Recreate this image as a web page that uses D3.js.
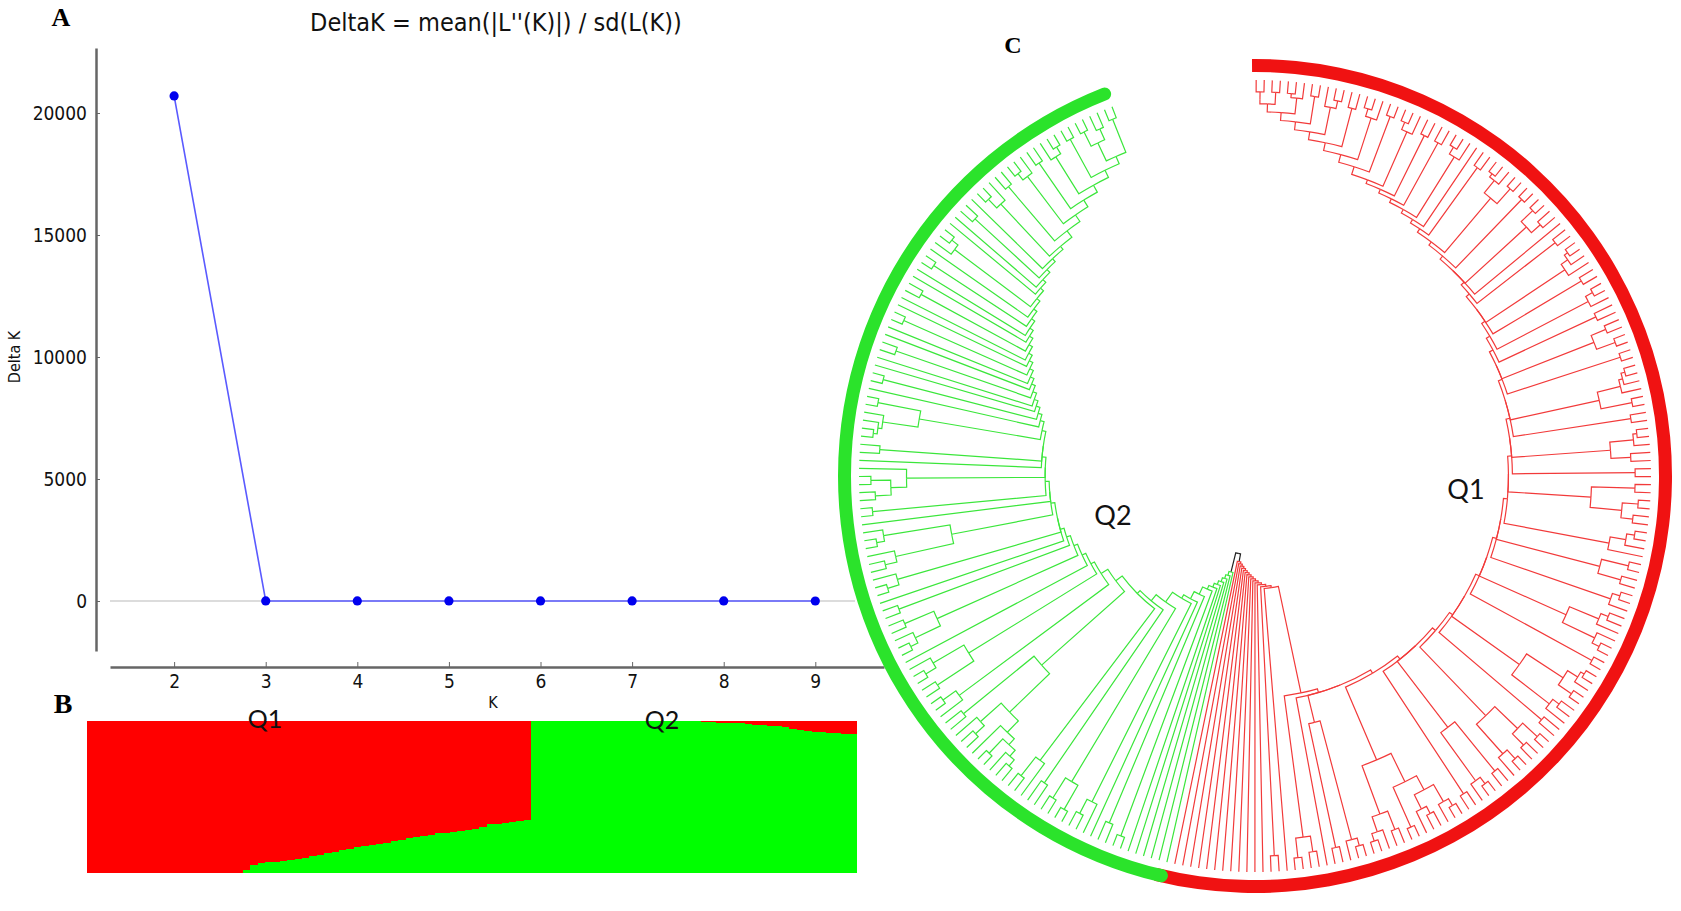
<!DOCTYPE html>
<html>
<head>
<meta charset="utf-8">
<script src="https://cdn.jsdelivr.net/npm/d3@7"></script>
<style>
  body { margin: 0; background: #fff; }
  svg { display: block; }
  .axis path, .axis line { stroke: #666; }
  .axis text { font-family: "DejaVu Sans Condensed", "DejaVu Sans", sans-serif; font-stretch: condensed; font-size: 19px; fill: #111; }
</style>
</head>
<body>
<svg id="fig"></svg>
<script>
const width = 1681, height = 911;

// Panel A - Evanno DeltaK
const kValues = [2, 3, 4, 5, 6, 7, 8, 9];
const deltaK = [20700, 4, 3, 3, 2, 2, 2, 1];
const yTicks = [0, 5000, 10000, 15000, 20000];

// Panel B - Q1 (red) membership of each individual, sorted inside each cluster
const popQ1 = [1, 1, 1, 1, 1, 1, 1, 1, 1, 1, 1, 1, 1, 1, 1, 1, 1, 1, 1, 1, 1,
  0.98, 0.95, 0.934, 0.93, 0.925, 0.92, 0.915, 0.91, 0.90, 0.89, 0.88, 0.87, 0.86, 0.85,
  0.84, 0.83, 0.82, 0.815, 0.81, 0.80, 0.79, 0.78, 0.77, 0.76, 0.755, 0.75, 0.74, 0.735,
  0.73, 0.725, 0.72, 0.71, 0.70, 0.68, 0.675, 0.67, 0.665, 0.66, 0.65];
const popQ2 = [0, 0, 0, 0, 0, 0, 0, 0, 0, 0, 0, 0, 0, 0, 0, 0, 0, 0, 0, 0, 0, 0, 0,
  0.005, 0.008, 0.01, 0.012, 0.014, 0.016, 0.02, 0.024, 0.027, 0.03, 0.035, 0.042,
  0.05, 0.058, 0.065, 0.07, 0.074, 0.077, 0.08, 0.083, 0.086];
const clusterNames = ["Q1", "Q2"];

// Panel C - tree. Each cluster is a ladder (spine) read outward from the root.
// spine depth = where the clade joins the spine; clade = small newick,
// internal labels are node depths (0 = centre, 100 = tips)
const rootDepth = 20;
const q1SpineDepth = [22, 22.5, 23, 23.5, 24, 24.5, 25, 25.5, 26, 26.5, 27, 27.5, 28, 28.5,
  56, 57, 57, 58, 59, 59, 60, 61, 61, 62, 62, 63, 63, 64, 64, 65, 65, 66, 66, 67, 67, 68,
  69, 70, 70, 71, 72, 72, 73, 74, 75, 76, 77, 78, 79, 80, 82, 84, 86, 88, 90, 92, 94, 95];
const q1Clades = ["", "", "", "", "", "", "", "", "", "", "", "", "(,)96", "",
  "((,)96,(,)97)92", "", "(((,)97,)95,(,)96)64",
  "(((((,)97,)95,((,)96,)94)90,(,)97)86,((,)96,(,(,)97)95)91)78",
  "(,)96", "((,)96,((,)97,)95)80", "(((,)97,(,)96)92,((,)97,)94)84",
  "(,)95", "((((,)97,)96,(,)97)93,((,)96,)94)82", "(,)97", "(((,)96,)94,(,(,)97)95)86",
  "((,)97,)95", "((,)97,(,)96)90", "(((,)97,)95,)91", "((,)96,((,)97,(,)96)93)85",
  "(,)96", "(((,)97,)96,(,)95)90", "(,)96", "((((,)97,)96,)95,(,)97)89",
  "(,)97", "((,)96,(,)97)92", "(,)95", "((,)97,)95", "(,)96", "(((,)97,)96,)94",
  "(,)96", "", "((,)97,(,)96)93", "(,)97", "(((,)97,)96,(,)97)92", "(,)96", "",
  "((,)97,)95", "(,)96", "(,)96", "((,)97,)95", "(,)97", "((,)97,)95", "(,)96",
  "(,(,)97)95", "(,)97", "((,)97,)96", "(,)97", "(,)97"];
const q2SpineDepth = [25, 26, 27, 28, 29, 30, 31, 33, 35, 36, 39, 41, 42, 44, 46, 47, 48, 49,
  50, 51, 51, 52, 52, 53, 53, 54, 54, 55, 56, 57, 58, 59, 60, 61, 62, 63, 64, 65, 66, 67,
  68, 69, 70, 71, 72, 73, 74, 75, 76, 78, 80, 82, 84, 86, 88, 90];
const q2Clades = ["", "", "", "", "", "", "(,)97", "(,)95", "", "(,(,)96)92",
  "((,)97,(,)96)90", "(,)94", "(,(,)96)90",
  "((((((,)96,)94,(,)97)92,)90,((,)96,)93)86,(,)95)72",
  "(,(,)97)93", "((,)96,((,)97,)94)85", "", "(((,)97,)95,(,)96)88",
  "(,)96", "", "((,)97,)94", "(((,)96,)93,((,)97,)95)78", "", "(,)97",
  "(((,)96,(,)97)92,)88", "", "(,)95", "((((,)97,)96,)95,(,)97)86",
  "", "(,)97", "", "", "(,)96", "", "", "(,)97", "", "", "(,)96", "", "", "(,)97", "",
  "(,(,)97)95", "", "", "(,)96", "", "((,)97,)94",
  "(,)96", "((,)97,)95", "(,)96", "(,(,)97)95", "(,)97", "((,)97,(,)96)93", "(,)97"];

const colors = { Q1: "#ff0000", Q2: "#00ff00" };
const treeLine = { Q1: "#f23a3a", Q2: "#3be63b", root: "#222" };
const ringColor = { Q1: "#f01212", Q2: "#2be32b" };
const labelFont = "'DejaVu Sans Condensed', 'DejaVu Sans', sans-serif";

const svg = d3.select("#fig").attr("width", width).attr("height", height);

// ---------- Panel A ----------
const x = d3.scaleLinear().domain([1.3, 9.75]).range([110, 884]);
const y = d3.scaleLinear().domain([-2049, 22664]).range([651, 48]);

svg.append("line")
  .attr("x1", 110).attr("x2", 855)
  .attr("y1", y(0)).attr("y2", y(0))
  .attr("stroke", "#dcdcdc").attr("stroke-width", 2);

svg.append("g").attr("class", "axis")
  .attr("transform", "translate(96,0)")
  .call(d3.axisLeft(y).tickValues(yTicks).tickFormat(d3.format("d"))
    .tickSize(-4).tickSizeOuter(0).tickPadding(9))
  .call(g => g.select(".domain").attr("stroke-width", 2.5));

svg.append("g").attr("class", "axis")
  .attr("transform", "translate(0,667)")
  .call(d3.axisBottom(x).tickValues(kValues).tickSize(-5).tickSizeOuter(0).tickPadding(8))
  .call(g => g.select(".domain").attr("stroke-width", 2.5));

const line = d3.line().x((d, i) => x(kValues[i])).y(d => y(d));
svg.append("path").datum(deltaK)
  .attr("d", line).attr("fill", "none")
  .attr("stroke", "#5a5aff").attr("stroke-width", 1.6);

svg.append("g").selectAll("circle")
  .data(deltaK)
  .join("circle")
  .attr("cx", (d, i) => x(kValues[i]))
  .attr("cy", d => y(d))
  .attr("r", 4.6)
  .attr("fill", "#0000ee");

svg.append("text")
  .attr("x", 496).attr("y", 24)
  .attr("text-anchor", "middle").attr("dominant-baseline", "middle")
  .style("font-family", labelFont).style("font-stretch", "condensed")
  .style("font-size", "25px").style("fill", "#111")
  .text("DeltaK = mean(|L''(K)|) / sd(L(K))");

svg.append("text")
  .attr("transform", "translate(15,357) rotate(-90)")
  .attr("text-anchor", "middle").attr("dominant-baseline", "middle")
  .style("font-family", labelFont).style("font-stretch", "condensed")
  .style("font-size", "16px").style("fill", "#111")
  .text("Delta K");

svg.append("text")
  .attr("x", 493).attr("y", 703)
  .attr("text-anchor", "middle").attr("dominant-baseline", "middle")
  .style("font-family", labelFont).style("font-stretch", "condensed")
  .style("font-size", "16px").style("fill", "#111")
  .text("K");

// ---------- Panel B ----------
const individuals = popQ1.concat(popQ2);
const bx = d3.scaleBand().domain(d3.range(individuals.length)).range([87, 856]);
const by = d3.scaleLinear().domain([0, 1]).range([873, 721]);

const bars = svg.append("g").attr("shape-rendering", "crispEdges");
bars.selectAll(".green")
  .data(individuals)
  .join("rect")
  .attr("class", "green")
  .attr("x", (d, i) => bx(i)).attr("width", bx.bandwidth() + 0.6)
  .attr("y", d => by(1 - d)).attr("height", d => by(0) - by(1 - d))
  .attr("fill", colors.Q2);
bars.selectAll(".red")
  .data(individuals)
  .join("rect")
  .attr("class", "red")
  .attr("x", (d, i) => bx(i)).attr("width", bx.bandwidth() + 0.6)
  .attr("y", by(1)).attr("height", d => by(1 - d) - by(1))
  .attr("fill", colors.Q1);

[[clusterNames[0], 265, 728], [clusterNames[1], 662, 729]].forEach(([t, tx, ty]) => {
  svg.append("text")
    .attr("x", tx).attr("y", ty).attr("text-anchor", "middle")
    .style("font-family", "Lato, sans-serif").style("font-size", "25px").style("fill", "#111")
    .text(t);
});

// ---------- Panel C ----------
function parseClade(s) {
  let i = 0;
  function node() {
    if (s[i] === "(") {
      i++;
      const children = [node()];
      while (s[i] === ",") { i++; children.push(node()); }
      i++;
      let lab = "";
      while (i < s.length && /[0-9.]/.test(s[i])) lab += s[i++];
      return { depth: +lab, children };
    }
    return { depth: 100 };
  }
  return node();
}

function buildSpine(depths, clades, group, cladeFirst) {
  let node = null;
  for (let k = depths.length - 1; k >= 0; k--) {
    const sub = parseClade(clades[k]);
    node = node === null
      ? { depth: depths[k], children: [sub] }
      : { depth: depths[k], children: cladeFirst ? [sub, node] : [node, sub] };
  }
  node.group = group;
  return node;
}

const treeData = {
  depth: rootDepth,
  children: [
    buildSpine(q1SpineDepth, q1Clades, "Q1", false),
    buildSpine(q2SpineDepth, q2Clades, "Q2", true)
  ]
};

const root = d3.hierarchy(treeData);
d3.cluster().size([1, 1]).separation(() => 1)(root);
root.each(d => { d.group = d.depth === 0 ? "root" : (d.depth === 1 ? d.data.group : d.parent.group); });

const leaves = root.leaves();
const a0 = -1 * Math.PI / 180, a1 = 340 * Math.PI / 180;
const step = (a1 - a0) / leaves.length;
const angle = d3.scaleLinear().domain([0, 1]).range([a0 + step / 2, a1 - step / 2]);
const radius = d3.scaleLinear().domain([0, 100]).range([0, 396]);

const polar = (a, r) => [r * Math.sin(a), -r * Math.cos(a)];

function elbow(l) {
  const as = angle(l.source.x), at = angle(l.target.x);
  const rs = radius(l.source.data.depth), rt = radius(l.target.data.depth);
  const p = d3.path();
  const [x1, y1] = polar(at, rt);
  const [x2, y2] = polar(at, rs);
  p.moveTo(x1, y1);
  p.lineTo(x2, y2);
  if (rs > 0 && Math.abs(as - at) > 1e-6) p.arc(0, 0, rs, at - Math.PI / 2, as - Math.PI / 2, as < at);
  return p.toString();
}

const tree = svg.append("g").attr("transform", "translate(1255,476)");

tree.append("g")
  .attr("fill", "none")
  .selectAll("path")
  .data(root.links())
  .join("path")
  .attr("d", elbow)
  .attr("stroke", d => d.source.depth === 0 ? treeLine.root : treeLine[d.target.group])
  .attr("stroke-width", 1.2);

// outer cluster rings
const ring = d3.arc().innerRadius(404).outerRadius(417);
const groups = ["Q1", "Q2"].map(g => {
  const ls = leaves.filter(d => d.group === g);
  return { g, start: angle(ls[0].x) - step / 2, end: angle(ls[ls.length - 1].x) + step / 2 };
});
tree.append("path")
  .attr("d", ring({ startAngle: groups[0].start, endAngle: groups[0].end + 0.03 }))
  .attr("fill", ringColor.Q1);
tree.append("path")
  .attr("d", ring.cornerRadius(6.5)({ startAngle: groups[1].start, endAngle: groups[1].end }))
  .attr("fill", ringColor.Q2);

[[clusterNames[1], 1113, 525], [clusterNames[0], 1466, 499]].forEach(([t, tx, ty]) => {
  svg.append("text")
    .attr("x", tx).attr("y", ty).attr("text-anchor", "middle")
    .style("font-family", "Lato, sans-serif").style("font-size", "27px").style("fill", "#111")
    .text(t);
});

// panel letters
[["A", 61, 26, 26], ["B", 63, 713, 28], ["C", 1013, 53, 24]].forEach(([t, tx, ty, fs]) => {
  svg.append("text")
    .attr("x", tx).attr("y", ty).attr("text-anchor", "middle")
    .style("font-family", "Liberation Serif, serif").style("font-weight", "bold")
    .style("font-size", fs + "px").style("fill", "#000")
    .text(t);
});
</script>
</body>
</html>
